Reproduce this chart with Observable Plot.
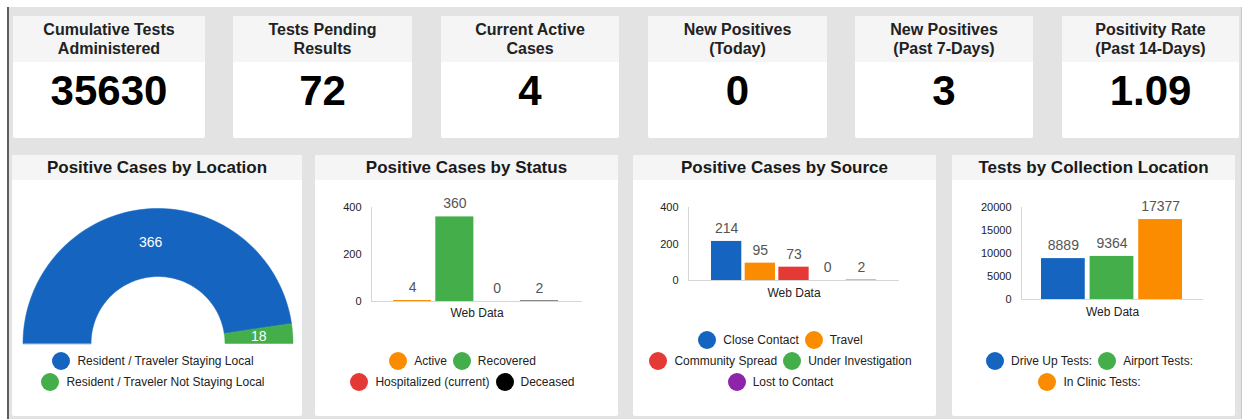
<!DOCTYPE html>
<html>
<head>
<meta charset="utf-8">
<script src="https://cdn.jsdelivr.net/npm/d3@7"></script>
<script src="https://cdn.jsdelivr.net/npm/@observablehq/plot@0.6"></script>
<style>
  html, body { margin: 0; padding: 0; background: #fff; }
  body { width: 1244px; height: 419px; position: relative; overflow: hidden;
         font-family: "Liberation Sans", Arial, sans-serif; }
  #board { position: absolute; left: 7px; top: 7px; width: 1235px; height: 412px;
           background: #e3e3e3; border-left: 2px solid #5e5e5e; border-right: 1px solid #c8c8c8; box-sizing: border-box; }
  .card { position: absolute; background: #fff; border-radius: 2px; overflow: visible; }
  .kpi-head { position: absolute; left: 0; right: 0; top: 0; height: 46px; background: #f5f5f5;
              display: flex; align-items: center; justify-content: center; text-align: center;
              font-weight: bold; font-size: 16px; line-height: 19px; color: #222; }
  .kpi-val { position: absolute; left: 0; right: 0; top: 52px; height: 46px; line-height: 46px;
             text-align: center; font-weight: bold; font-size: 42px; color: #000; }
  .chart-head { position: absolute; left: 0; right: 0; top: 0; height: 25px; line-height: 26px; background: #f5f5f5;
                text-align: center; font-weight: bold; font-size: 17px; color: #1a1a1a; }
  .plotbox { position: absolute; left: 0; top: 25px; }
  .legend { position: absolute; left: 0; right: 8px; bottom: 24px; }
  .lrow { display: flex; justify-content: center; align-items: center; height: 21px; gap: 6px; }
  .litem { display: flex; align-items: center; gap: 7px; font-size: 12px; color: #222; white-space: nowrap; }
  .dot { width: 18px; height: 18px; border-radius: 50%; display: inline-block; }
</style>
</head>
<body>
<div id="board"></div>
<script>
// ---------------- DATA ----------------
const kpiTitles = [
  ["Cumulative Tests", "Administered"],
  ["Tests Pending", "Results"],
  ["Current Active", "Cases"],
  ["New Positives", "(Today)"],
  ["New Positives", "(Past 7-Days)"],
  ["Positivity Rate", "(Past 14-Days)"]
];
const kpiValues = ["35630", "72", "4", "0", "3", "1.09"];

const groupLabel = "Web Data";

const locationCategories = ["Resident / Traveler Staying Local", "Resident / Traveler Not Staying Local"];
const locationValues = [366, 18];

const statusCategories = ["Active", "Recovered", "Hospitalized (current)", "Deceased"];
const statusValues = [4, 360, 0, 2];
const statusTicks = [0, 200, 400];

const sourceCategories = ["Close Contact", "Travel", "Community Spread", "Under Investigation", "Lost to Contact"];
const sourceValues = [214, 95, 73, 0, 2];
const sourceTicks = [0, 200, 400];

const collectionCategories = ["Drive Up Tests:", "Airport Tests:", "In Clinic Tests:"];
const collectionValues = [8889, 9364, 17377];
const collectionTicks = [0, 5000, 10000, 15000, 20000];

// ---------------- STYLE ----------------
const C = {blue: "#1565c0", green: "#43ae4a", orange: "#fb8c00", red: "#e53935", black: "#000000", purple: "#8e24aa"};
const locationColors = [C.blue, C.green];
const statusColors = [C.orange, C.green, C.red, C.black];
const sourceColors = [C.blue, C.orange, C.red, C.green, C.purple];
const collectionColors = [C.blue, C.green, C.orange];
const FONT = "Liberation Sans, Arial, sans-serif";

const board = document.getElementById("board");
const OX = 9, OY = 7; // board content offset (left includes 2px border)

function makeCard(x0, y0, x1, y1) {
  const d = document.createElement("div");
  d.className = "card";
  d.style.left = (x0 - OX) + "px";
  d.style.top = (y0 - OY) + "px";
  d.style.width = (x1 - x0) + "px";
  d.style.height = (y1 - y0) + "px";
  board.appendChild(d);
  return d;
}

// KPI cards
const kpiBoxes = [[13, 205], [233, 412], [441, 619], [648, 827], [855, 1033], [1062, 1239]];
kpiBoxes.forEach(([a, b], i) => {
  const card = makeCard(a, 16, b, 138);
  const h = document.createElement("div");
  h.className = "kpi-head";
  h.innerHTML = kpiTitles[i].join("<br>");
  card.appendChild(h);
  const v = document.createElement("div");
  v.className = "kpi-val";
  v.textContent = kpiValues[i];
  card.appendChild(v);
});

function chartCard(x0, x1, title) {
  const card = makeCard(x0, 155, x1, 416);
  const h = document.createElement("div");
  h.className = "chart-head";
  h.textContent = title;
  card.appendChild(h);
  return card;
}

function legend(card, cats, colors, rows) {
  const lg = document.createElement("div");
  lg.className = "legend";
  rows.forEach(r => {
    const row = document.createElement("div");
    row.className = "lrow";
    r.forEach(i => {
      const it = document.createElement("div");
      it.className = "litem";
      const dot = document.createElement("span");
      dot.className = "dot";
      dot.style.background = colors[i];
      it.appendChild(dot);
      const t = document.createElement("span");
      t.textContent = cats[i];
      it.appendChild(t);
      row.appendChild(it);
    });
    lg.appendChild(row);
  });
  card.appendChild(lg);
}

function barChart(card, cfg) {
  const rows = cfg.cats.map((c, i) => ({cat: c, value: cfg.values[i], color: cfg.colors[i]}));
  const chart = Plot.plot({
    width: cfg.width, height: cfg.height,
    marginLeft: cfg.ml, marginRight: cfg.mr, marginTop: cfg.mt, marginBottom: cfg.mb,
    style: {fontFamily: FONT, background: "transparent", overflow: "visible"},
    x: {domain: cfg.cats, range: cfg.xRange, paddingInner: 0.1, paddingOuter: 0, round: false, axis: null},
    y: {domain: cfg.domain, axis: null},
    marks: [
      Plot.frame({anchor: "left", stroke: "#d6d6d6"}),
      Plot.ruleY([0], {stroke: "#d6d6d6"}),
      Plot.axisY(cfg.ticks, {tickSize: 0, tickPadding: 10, fontSize: 11, fill: "#222", label: null,
        tickFormat: d => String(d)}),
      Plot.barY(rows, {x: "cat", y: "value", fill: "color"}),
      Plot.text(rows, {x: "cat", y: "value", text: d => String(d.value), dy: -13, fontSize: 14, fill: "#555"}),
      Plot.text([groupLabel], {frameAnchor: "bottom", dy: cfg.labelDy, fontSize: 12, fill: "#222"})
    ]
  });
  const box = document.createElement("div");
  box.className = "plotbox";
  box.appendChild(chart);
  card.appendChild(box);
}

// ---- Positive Cases by Location (half donut) ----
{
  const card = chartCard(12, 302, "Positive Cases by Location");
  const total = d3.sum(locationValues);
  const k = 0.496; // inner / outer radius
  let acc = 0;
  const slices = locationValues.map((v, i) => {
    const f0 = acc / total; acc += v; const f1 = acc / total;
    return {i, v, f0, f1};
  });
  const polys = slices.map(s => {
    const pts = [];
    const n = 90;
    for (let j = 0; j <= n; j++) {
      const t = Math.PI * (1 - (s.f0 + (s.f1 - s.f0) * j / n));
      pts.push({x: Math.cos(t), y: Math.sin(t)});
    }
    for (let j = n; j >= 0; j--) {
      const t = Math.PI * (1 - (s.f0 + (s.f1 - s.f0) * j / n));
      pts.push({x: k * Math.cos(t), y: k * Math.sin(t)});
    }
    return pts;
  });
  const labels = slices.map(s => {
    const t = Math.PI * (1 - (s.f0 + s.f1) / 2);
    const r = (1 + k) / 2;
    return {x: r * Math.cos(t), y: r * Math.sin(t), text: String(s.v)};
  });
  const chart = Plot.plot({
    width: 290, height: 175, margin: 0,
    style: {fontFamily: FONT, background: "transparent", overflow: "visible"},
    x: {domain: [-1, 1], range: [10.5, 280.5], axis: null},
    y: {domain: [0, 1], range: [163, 28], axis: null},
    marks: [
      ...polys.map((p, i) => Plot.line(p, {x: "x", y: "y", curve: "linear-closed",
        fill: locationColors[i], stroke: locationColors[i], strokeWidth: 0.5})),
      Plot.text(labels, {x: "x", y: "y", text: "text", fill: "#fff", fontSize: 14})
    ]
  });
  const box = document.createElement("div");
  box.className = "plotbox";
  box.appendChild(chart);
  card.appendChild(box);
  legend(card, locationCategories, locationColors, [[0], [1]]);
}

// ---- Positive Cases by Status ----
{
  const card = chartCard(315, 618, "Positive Cases by Status");
  barChart(card, {
    cats: statusCategories, values: statusValues, colors: statusColors,
    width: 303, height: 150, ml: 56, mr: 36, mt: 27, mb: 29,
    xRange: [78, 243], domain: [0, 400], ticks: statusTicks, labelDy: 15
  });
  legend(card, statusCategories, statusColors, [[0, 1], [2, 3]]);
}

// ---- Positive Cases by Source ----
{
  const card = chartCard(633, 936, "Positive Cases by Source");
  barChart(card, {
    cats: sourceCategories, values: sourceValues, colors: sourceColors,
    width: 303, height: 130, ml: 55, mr: 37, mt: 27, mb: 30,
    xRange: [78, 243], domain: [0, 400], ticks: sourceTicks, labelDy: 16
  });
  legend(card, sourceCategories, sourceColors, [[0, 1], [2, 3], [4]]);
}

// ---- Tests by Collection Location ----
{
  const card = chartCard(952, 1235, "Tests by Collection Location");
  barChart(card, {
    cats: collectionCategories, values: collectionValues, colors: collectionColors,
    width: 283, height: 150, ml: 69, mr: 32, mt: 27, mb: 31,
    xRange: [89, 230], domain: [0, 20000], ticks: collectionTicks, labelDy: 16
  });
  legend(card, collectionCategories, collectionColors, [[0, 1], [2]]);
}
</script>
</body>
</html>
